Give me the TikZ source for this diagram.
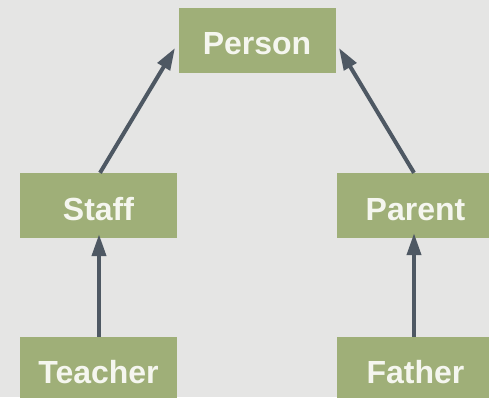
\documentclass[tikz,border=0pt]{standalone}
\usepackage{fontspec}
\setmainfont{Liberation Sans}
\usetikzlibrary{arrows.meta}
\definecolor{bg}{HTML}{E5E5E4}
\definecolor{boxfill}{HTML}{9FAF78}
\definecolor{boxtext}{HTML}{F5F6EF}
\definecolor{arrowcol}{HTML}{4E5863}
\tikzset{
  classbox/.style={fill=boxfill, minimum width=157pt, minimum height=65pt, inner sep=0pt,
    text=boxtext, font=\fontsize{32}{34}\selectfont\bfseries},
  boxlabel/.style={text=boxtext, font=\fontsize{32}{34}\selectfont\bfseries, inner sep=0pt},
  inherit/.style={draw=arrowcol, line width=4pt, -{Triangle[length=22pt,width=14pt]}}
}
\begin{document}
\begin{tikzpicture}[x=1pt,y=-1pt]
\fill[bg] (0,0) rectangle (489,397);
\useasboundingbox (0,0) rectangle (489,397);
\node[classbox] (person) at (257,40) {};
\node[classbox] (staff) at (98.5,205.5) {};
\node[classbox] (parent) at (415.5,205.5) {};
\node[classbox] (teacher) at (98.5,369.5) {};
\node[classbox] (father) at (415.5,369.5) {};
\node[boxlabel] (personl) at ([yshift=-4pt]person.center) {Person};
\node[boxlabel] (staffl) at ([yshift=-4pt]staff.center) {Staff};
\node[boxlabel] (parentl) at ([yshift=-4pt]parent.center) {Parent};
\node[boxlabel] (teacherl) at ([yshift=-3pt]teacher.center) {Teacher};
\node[boxlabel] (fatherl) at ([yshift=-3pt]father.center) {Father};
\coordinate (tipL) at (175,48);
\coordinate (tipR) at (339,48);
\draw[inherit] (staff.north -| 100,0) -- (tipL);
\draw[inherit] (parent.north -| 414,0) -- (tipR);
\draw[inherit] (teacher.north -| 99,0) -- ([yshift=4pt]staff.south -| 99,0);
\draw[inherit] (father.north -| 414,0) -- ([yshift=5pt]parent.south -| 414,0);
\end{tikzpicture}
\end{document}
